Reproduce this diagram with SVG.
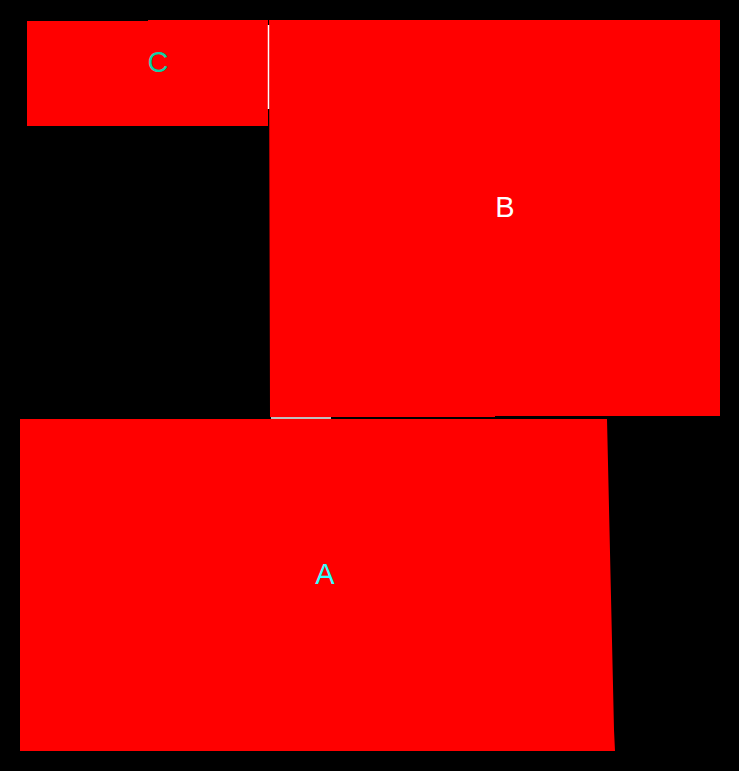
<svg xmlns="http://www.w3.org/2000/svg" width="739" height="771" viewBox="0 0 739 771">
<style>
.shape{fill:#ff0000;stroke:none}
.sep{stroke:#ffffff;stroke-width:1.5;fill:none}
.lbl{font-family:"Liberation Sans",Arial,sans-serif;font-size:29px;text-anchor:middle;dominant-baseline:central}
</style>
<rect width="739" height="771" fill="#000000"/>
<g id="node-C">
<polygon class="shape" points="27,21 148,21 148,20 268,20 268,126 27,126"/>
<text class="lbl" x="158" y="62" fill="#0fd0a6">C</text>
</g>
<g id="node-B">
<polygon class="shape" points="269,20 720,20 720,416 495,416 495,417 270,417"/>
<text class="lbl" x="505" y="207" fill="#ffffff">B</text>
</g>
<g id="node-A">
<polygon class="shape" points="20,419 607,419 614,730 615,751 20,751"/>
<text class="lbl" x="325" y="574" fill="#33ffff">A</text>
</g>
<g id="connectors">
<line class="sep" x1="268.5" y1="25" x2="268.5" y2="109"/>
<line class="sep" x1="271" y1="418" x2="331" y2="418"/>
</g>
</svg>
